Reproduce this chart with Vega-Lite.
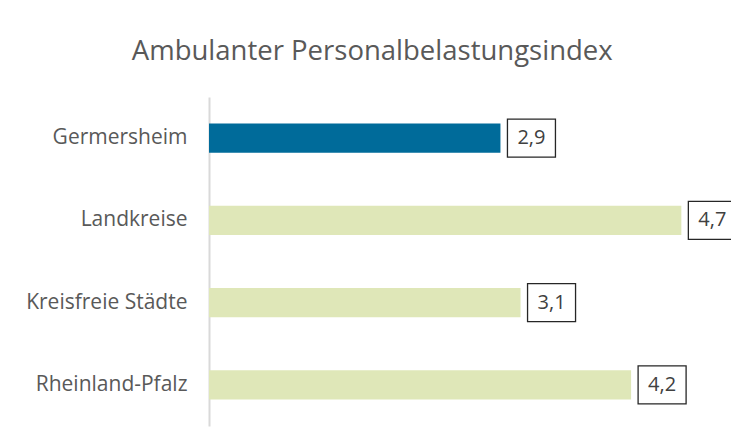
{
  "$schema": "https://vega.github.io/schema/vega-lite/v6.json",
  "autosize": {"type": "none"},
  "width": 502.5,
  "height": 329,
  "padding": {"left": 209, "top": 97, "right": 20, "bottom": 21},
  "background": "white",
  "config": {
    "view": {"stroke": null},
    "locale": {"number": {"decimal": ",", "thousands": ".", "grouping": [3], "currency": ["", " €"]}},
    "font": "Open Sans"
  },
  "title": {
    "text": "Ambulanter Personalbelastungsindex",
    "anchor": "middle",
    "frame": "group",
    "dx": -88,
    "offset": 32,
    "fontSize": 27.5,
    "font": "Open Sans",
    "fontWeight": "normal",
    "color": "#595959"
  },
  "data": {
    "values": [
      {"region": "Germersheim", "wert": 2.9, "gruppe": "Kreis"},
      {"region": "Landkreise", "wert": 4.7, "gruppe": "Vergleich"},
      {"region": "Kreisfreie Städte", "wert": 3.1, "gruppe": "Vergleich"},
      {"region": "Rheinland-Pfalz", "wert": 4.2, "gruppe": "Vergleich"}
    ]
  },
  "encoding": {
    "y": {
      "field": "region",
      "type": "nominal",
      "sort": null,
      "scale": {"paddingInner": 0.647, "paddingOuter": 0.3235},
      "axis": {
        "title": null,
        "ticks": false,
        "domainColor": "#d9d9d9",
        "domainWidth": 2,
        "labelFontSize": 21,
        "labelColor": "#595959",
        "labelFont": "Open Sans",
        "labelPadding": 22
      }
    },
    "x": {
      "field": "wert",
      "type": "quantitative",
      "scale": {"domain": [0, 5], "nice": false},
      "axis": null
    }
  },
  "layer": [
    {
      "mark": {"type": "bar"},
      "encoding": {
        "color": {
          "field": "gruppe",
          "type": "nominal",
          "scale": {"domain": ["Kreis", "Vergleich"], "range": ["#006B9A", "#DFE7B8"]},
          "legend": null
        }
      }
    },
    {
      "mark": {
        "type": "point",
        "shape": "M-1,-0.79H1V0.79H-1Z",
        "size": 2304,
        "filled": false,
        "stroke": "#262626",
        "strokeWidth": 1.3,
        "opacity": 1,
        "xOffset": 31
      }
    },
    {
      "mark": {
        "type": "text",
        "xOffset": 31,
        "fontSize": 20,
        "font": "Open Sans",
        "color": "#404040",
        "align": "center",
        "baseline": "middle"
      },
      "encoding": {
        "text": {"field": "wert", "type": "quantitative", "format": ".1f"}
      }
    }
  ]
}
